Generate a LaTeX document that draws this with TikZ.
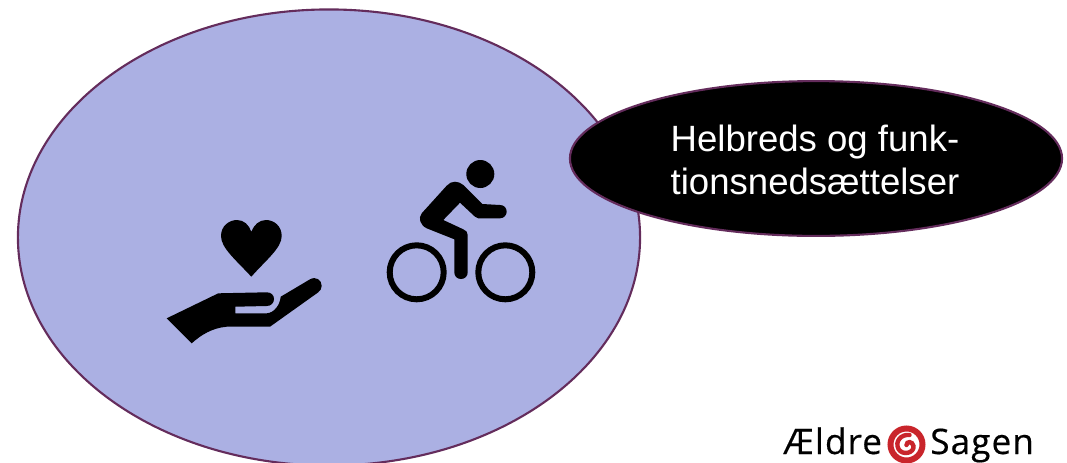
\documentclass[tikz,border=0pt]{standalone}
\usepackage{fontspec}
\setmainfont{Liberation Sans}
\newfontfamily\logofont[LetterSpace=3,FakeBold=0.4]{Open Sans}
\usetikzlibrary{shapes.geometric, positioning}
\definecolor{lavender}{HTML}{ABB0E3}
\definecolor{edging}{HTML}{642C5C}
\definecolor{logored}{HTML}{C9252B}

\begin{document}
\begin{tikzpicture}[
  x=0.025cm, y=-0.025cm,
  bubble/.style={ellipse, draw=edging, line width=1.5pt, inner sep=0pt},
  speechlabel/.style={align=center, text=white, font=\fontsize{26}{31}\selectfont},
  icon/.style={fill=black, draw=none},
  wheel/.style={draw=black, line width=0.15cm},
  logotext/.style={inner sep=0pt, anchor=base west, font=\logofont\fontsize{25}{28}\selectfont},
]
  \useasboundingbox (0,0) rectangle (1067,462);

  \node[bubble, fill=lavender, minimum width=15.55cm, minimum height=11.4cm] (main) at (329,237.5) {};
  \node[bubble, fill=black, minimum width=12.3cm, minimum height=3.87cm] (speech) at (816,158.5) {};
  \node[speechlabel] (speechtext) at (815,160) {Helbreds og funk-\\tionsnedsættelser};

  % heart and hand
  \fill[icon] (251.3,276.7) .. controls (236,260) and (221,248) .. (221,236)
    .. controls (221,226) and (229,220) .. (237,220)
    .. controls (244,220) and (249,225) .. (251.3,231.7)
    .. controls (254,225) and (259,220) .. (266,220)
    .. controls (274,220) and (281.7,226) .. (281.7,236)
    .. controls (281.7,248) and (266,260) .. (251.3,276.7) -- cycle;
  \fill[icon] (166.7,318.3) -- (218.3,293.3) -- (266.7,292.3)
    .. controls (271,292.3) and (274,295) .. (274,299)
    .. controls (274,303) and (271,306) .. (266.7,306)
    -- (235.3,306.7) -- (235.3,313.3) -- (266.7,313.3)
    .. controls (274,313) and (280,305) .. (280.7,296.7)
    -- (310,279.3) .. controls (316,276) and (321.7,280) .. (321.7,286)
    .. controls (321.7,289) and (320,291) .. (318,292.5)
    -- (270,326.7) -- (226.7,326.7) .. controls (212,328) and (201,335) .. (191.7,343.3) -- cycle;

  % cyclist
  \fill[icon] (480.3,174) circle (14);
  \draw[wheel] (416.7,272.3) circle (27);
  \draw[wheel] (505.3,272.3) circle (27);
  \fill[icon] (455,181.7) .. controls (458,181.7) and (461,183) .. (463.3,185)
    -- (482.3,204) -- (500,205) .. controls (504,205) and (506.7,208) .. (506.7,211.7)
    .. controls (506.7,215) and (504,218.3) .. (500,218.3)
    -- (478.3,218.3) -- (475,216.7) -- (460,202.7) -- (443.3,220) -- (463.3,229.3)
    .. controls (466,230.5) and (467.7,232) .. (467.7,235)
    -- (467.7,272.3) .. controls (467.7,276) and (465,279) .. (461,279)
    .. controls (457,279) and (454.3,276) .. (454.3,272.3)
    -- (454.3,239.3) -- (426.7,228.3) .. controls (420,225) and (418,218) .. (421.7,213.3)
    -- (446.7,185.7) .. controls (449,183) and (452,181.7) .. (455,181.7) -- cycle;

  % logo
  \node[logotext] (aeldre) at (783,454) {Ældre};
  \node[logotext] (sagen) at (930,454) {Sagen};
  \draw[logored, line width=0.15cm] (906.5,444.5) circle (16);
  \draw[logored, line width=0.11cm, line cap=round] (906.5,445) .. controls (906.5,441) and (912.5,441) .. (913.5,446)
    .. controls (914.5,453) and (902.5,456) .. (898.5,449)
    .. controls (894.5,441) and (901.5,434) .. (909.5,435);
\end{tikzpicture}
\end{document}
